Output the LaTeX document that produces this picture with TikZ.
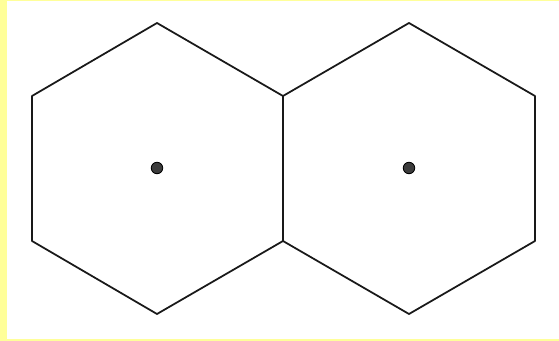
\documentclass[tikz,border=0pt]{standalone}
\definecolor{paleyellow}{RGB}{255,255,153}
\definecolor{dotgrey}{RGB}{60,60,60}
\begin{document}
\begin{tikzpicture}[x=0.02cm,y=-0.02cm,
  hexline/.style={black!90, line width=1pt, line join=round},
  centredot/.style={circle, fill=dotgrey, draw=black, line width=0.5pt, inner sep=0pt, minimum size=0.23cm}]

\useasboundingbox (0,0) rectangle (559,341);
\fill[paleyellow] (0,0) rectangle (559,341);
\fill[white] (7,1) rectangle (559,339);

% left hexagon
\draw[hexline] (157,23) -- (283,96) -- (283,241) -- (157,314) -- (32,241) -- (32,96) -- cycle;
% right hexagon
\draw[hexline] (409,23) -- (535,96) -- (535,241) -- (409,314) -- (283,241) -- (283,96) -- cycle;

% centres
\node[centredot] (cleft) at (157,168) {};
\node[centredot] (cright) at (409,168) {};

\end{tikzpicture}
\end{document}
